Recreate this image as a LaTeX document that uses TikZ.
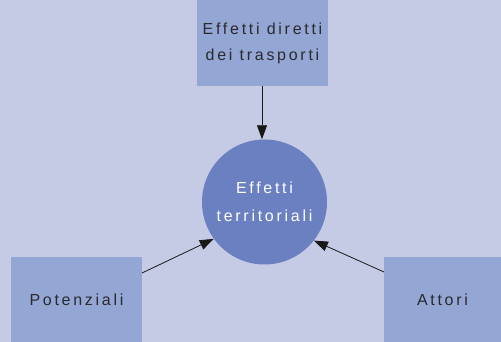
\documentclass[tikz,border=0pt]{standalone}
\usepackage{fontspec}
\setmainfont[LetterSpace=17]{Liberation Sans}
\usetikzlibrary{arrows.meta}
\definecolor{bg}{HTML}{C6CBE5}
\definecolor{boxc}{HTML}{94A6D3}
\definecolor{circc}{HTML}{6A80C0}
\definecolor{txt}{HTML}{2A2A2E}
\tikzset{
  box/.style={fill=boxc, draw=none, inner sep=0pt, align=center, text=txt, font=\fontsize{16}{26}\selectfont},
  arr/.style={draw=black!90, line width=0.8pt, -{Triangle[length=14pt,width=10pt]}}
}
\begin{document}
\begin{tikzpicture}[x=1pt,y=1pt]
\fill[bg] (0,0) rectangle (501,342);
\useasboundingbox (0,0) rectangle (501,342);
\node[box, minimum width=131pt, minimum height=86pt] (top) at (262.5,299) {Effetti diretti\\dei trasporti};
\node[box, minimum width=131pt, minimum height=85pt] (pot) at (76.5,42.5) {Potenziali};
\node[box, minimum width=117pt, minimum height=85pt] (att) at (442.5,42.5) {Attori};
\node[circle, fill=circc, minimum size=125pt, inner sep=0pt, align=center, text=white, font=\fontsize{16}{28}\selectfont] (c) at (264.5,140) {Effetti\\territoriali};
\coordinate (pa) at (142,69);
\coordinate (aa) at (384,70);
\draw[arr] (262,256) -- (c.north -| 262,0);
\draw[arr] (pa) -- (c.216);
\draw[arr] (aa) -- (c.322);
\end{tikzpicture}
\end{document}
